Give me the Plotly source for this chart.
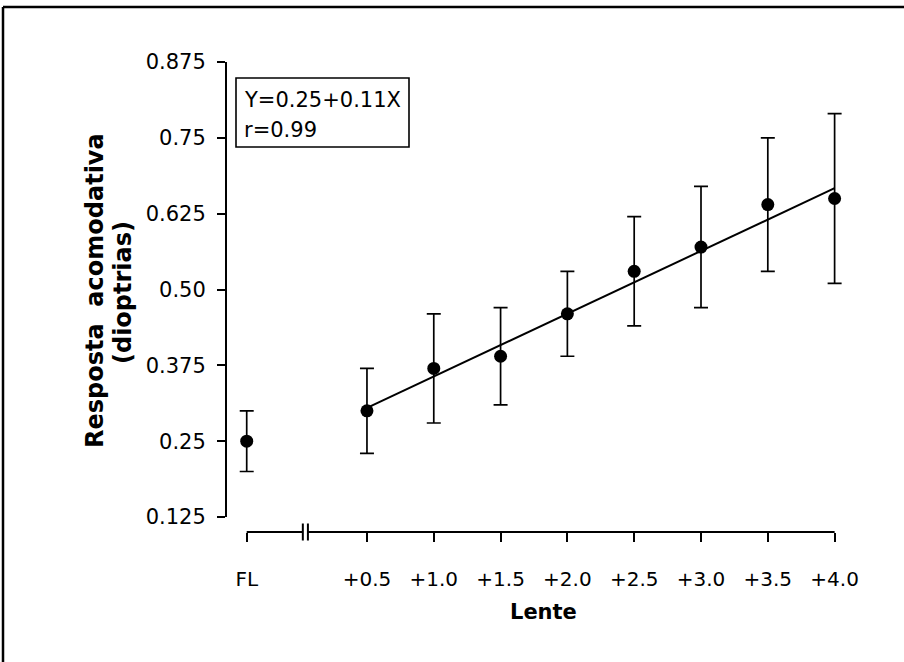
import plotly.graph_objects as go

# Data.
lens_labels = ["FL", "+0.5", "+1.0", "+1.5", "+2.0", "+2.5", "+3.0", "+3.5", "+4.0"]
lens_power = [0.5, 1.0, 1.5, 2.0, 2.5, 3.0, 3.5, 4.0]
fl_response = 0.25
fl_error = 0.05
response = [0.30, 0.37, 0.39, 0.46, 0.53, 0.57, 0.64, 0.65]
response_error = [0.07, 0.09, 0.08, 0.07, 0.09, 0.10, 0.11, 0.14]
fit_x = [0.5, 4.0]
fit_y = [0.305, 0.667]
y_ticks = [0.125, 0.25, 0.375, 0.50, 0.625, 0.75, 0.875]
y_tick_labels = ["0.125", "0.25", "0.375", "0.50", "0.625", "0.75", "0.875"]

# Layout constants.
W, H = 904, 662
ML, MR, MT, MB = 226, 44, 50, 130
PW, PH = W - ML - MR, H - MT - MB
FL_X = -0.4          # where the "FL" point sits on the broken axis
BREAK = (0.02, 0.058)
X_RANGE = [-0.555, 4.19]
Y_RANGE = [0.1003, 0.8948]
FONT = "DejaVu Sans"


def px_x(p):
    return (p - ML) / PW


def px_y(p):
    return (H - MB - p) / PH


xs = [FL_X] + lens_power
ys = [fl_response] + response
errs = [fl_error] + response_error

fig = go.Figure()

fig.add_trace(go.Scatter(
    x=fit_x, y=fit_y, mode="lines",
    line=dict(color="black", width=2), showlegend=False, hoverinfo="skip"))

fig.add_trace(go.Scatter(
    x=xs, y=ys, mode="markers",
    marker=dict(color="black", size=13),
    error_y=dict(type="data", array=errs, visible=True,
                 color="black", thickness=1.7, width=7),
    cliponaxis=False, showlegend=False))

line_style = dict(color="black", width=2)
shapes = [
    # broken x axis
    dict(type="line", xref="x", yref="paper", x0=FL_X, x1=BREAK[0], y0=0, y1=0, line=line_style),
    dict(type="line", xref="x", yref="paper", x0=BREAK[1], x1=4.0, y0=0, y1=0, line=line_style),
    dict(type="line", xref="x", yref="paper", x0=BREAK[0], x1=BREAK[0],
         y0=-8.5 / PH, y1=8.5 / PH, line=line_style),
    dict(type="line", xref="x", yref="paper", x0=BREAK[1], x1=BREAK[1],
         y0=-8.5 / PH, y1=8.5 / PH, line=line_style),
    # y axis
    dict(type="line", xref="paper", yref="y", x0=0, x1=0, y0=0.125, y1=0.875, line=line_style),
    # equation box
    dict(type="rect", xref="paper", yref="paper", x0=px_x(236), x1=px_x(409),
         y0=px_y(147), y1=px_y(78), line=dict(color="black", width=1.6)),
    # outer frame (top and left)
    dict(type="line", xref="paper", yref="paper", x0=px_x(3), x1=px_x(W),
         y0=px_y(7), y1=px_y(7), line=dict(color="black", width=2.5)),
    dict(type="line", xref="paper", yref="paper", x0=px_x(3), x1=px_x(3),
         y0=px_y(7), y1=px_y(H), line=dict(color="black", width=2.5)),
]

annotations = [
    dict(text="Y=0.25+0.11X", xref="paper", yref="paper", x=px_x(242), y=px_y(100),
         xanchor="left", yanchor="middle", showarrow=False,
         font=dict(family=FONT, size=21, color="black")),
    dict(text="r=0.99", xref="paper", yref="paper", x=px_x(242), y=px_y(130),
         xanchor="left", yanchor="middle", showarrow=False,
         font=dict(family=FONT, size=21, color="black")),
    dict(text="<b>Lente</b>", xref="paper", yref="paper", x=px_x(543), y=px_y(612),
         xanchor="center", yanchor="middle", showarrow=False,
         font=dict(family=FONT, size=21, color="black")),
    dict(text="<b>Resposta  acomodativa</b>", textangle=-90,
         xref="paper", yref="paper", x=px_x(95), y=px_y(291),
         xanchor="center", yanchor="middle", showarrow=False,
         font=dict(family=FONT, size=24, color="black")),
    dict(text="<b>(dioptrias)</b>", textangle=-90,
         xref="paper", yref="paper", x=px_x(123), y=px_y(293),
         xanchor="center", yanchor="middle", showarrow=False,
         font=dict(family=FONT, size=24, color="black")),
]

fig.update_layout(
    width=W, height=H,
    margin=dict(l=ML, r=MR, t=MT, b=MB),
    paper_bgcolor="white", plot_bgcolor="white",
    font=dict(family=FONT, size=19, color="black"),
    shapes=shapes, annotations=annotations,
)

fig.update_xaxes(
    range=X_RANGE, showgrid=False, zeroline=False, showline=False,
    tickmode="array", tickvals=xs, ticktext=lens_labels,
    ticks="outside", ticklen=9, tickwidth=2, tickcolor="black",
    ticklabelstandoff=20,
    tickfont=dict(family=FONT, size=20, color="black"))

fig.update_yaxes(
    range=Y_RANGE, showgrid=False, zeroline=False, showline=False,
    tickmode="array", tickvals=y_ticks, ticktext=y_tick_labels,
    ticks="outside", ticklen=8, tickwidth=2, tickcolor="black",
    ticklabelstandoff=7,
    tickfont=dict(family=FONT, size=21, color="black"))

fig.write_html("out.html", config={"displayModeBar": False},
               post_script="document.body.style.margin='0';"
                           "document.body.style.overflow='hidden';")
